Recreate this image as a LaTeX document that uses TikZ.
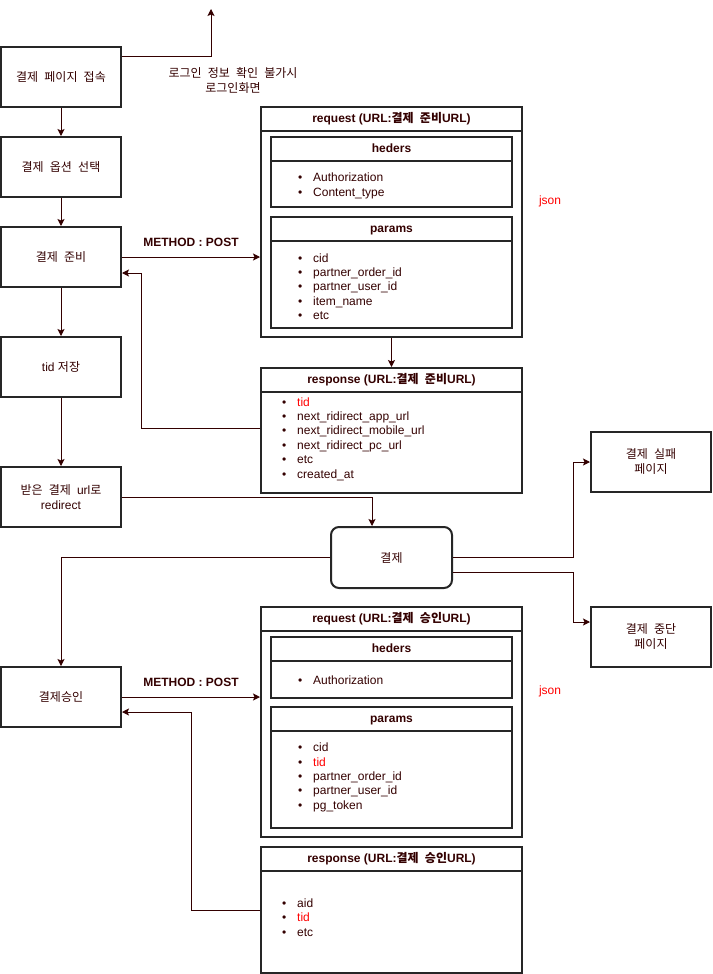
\documentclass[tikz,border=0pt]{standalone}
\usepackage{fontspec}
\setmainfont{Liberation Sans}
\newfontfamily\kr{Noto Sans CJK KR}[WordSpace=2.3]
\usetikzlibrary{arrows.meta,calc}
\definecolor{txt}{HTML}{330000}
\definecolor{ln}{HTML}{330000}
\definecolor{bd}{HTML}{262626}
\definecolor{rd}{HTML}{FF0000}
\newcommand\bl{\makebox[15pt][l]{\textbullet}}
\begin{document}
\begin{tikzpicture}[x=1pt,y=-1pt,
  every node/.style={text=txt},
  box/.style={draw=bd, line width=2pt, fill=white, minimum width=120pt, minimum height=60pt,
    inner sep=0pt, align=center, font=\fontsize{12}{15}\selectfont},
  ttl/.style={draw=bd, line width=2pt, minimum width=#1, minimum height=24pt, inner sep=0pt,
    text height=9.75pt, text depth=2.25pt, font=\fontsize{12}{15}\selectfont\bfseries},
  body/.style={draw=bd, line width=2pt, inner sep=0pt},
  lst/.style={anchor=west, inner sep=0pt, align=left, font=\fontsize{12}{14.35}\selectfont},
  lbl/.style={inner sep=0pt, align=center, font=\fontsize{12}{15}\selectfont},
  arr/.style={draw=ln, line width=1pt, -{Stealth[length=7pt,width=7pt,inset=1.5pt]}},
]
\useasboundingbox (0,0) rectangle (712,974);

% left column
\node[box] (b1) at (61,77) {{\kr 결제 페이지 접속}};
\node[box] (b2) at (61,167) {{\kr 결제 옵션 선택}};
\node[box] (b3) at (61,257) {{\kr 결제 준비}};
\node[box] (b4) at (61,367) {tid {\kr 저장}};
\node[box] (b5) at (61,497) {{\kr 받은 결제 }url{\kr 로}\\redirect};
\node[box] (b6) at (61,697) {{\kr 결제승인}};
\node[box, minimum width=121pt, minimum height=61pt, rounded corners=8pt] (pay) at (391.5,557.5) {{\kr 결제}};
\node[box] (fail) at (651,462) {{\kr 결제 실패}\\{\kr 페이지}};
\node[box] (stop) at (651,637) {{\kr 결제 중단}\\{\kr 페이지}};

% request 1
\node[body, minimum width=261pt, minimum height=206pt] (rq1b) at (391.5,234) {};
\node[ttl=261pt] (rq1t) at (391.5,119) {request (URL:{\kr 결제 준비}URL)};
\node[body, minimum width=241pt, minimum height=46pt] (h1b) at (391.5,184) {};
\node[ttl=241pt] (h1t) at (391.5,149) {heders};
\node[lst] (h1l) at (298,186) {\bl Authorization\\\bl Content\_type};
\node[body, minimum width=241pt, minimum height=87pt] (p1b) at (391.5,284.5) {};
\node[ttl=241pt] (p1t) at (391.5,229) {params};
\node[lst] (p1l) at (298,286.5) {\bl cid\\\bl partner\_order\_id\\\bl partner\_user\_id\\\bl item\_name\\\bl etc};
\node[lbl, text=rd] (json1) at (550,201) {json};

% response 1
\node[body, minimum width=261pt, minimum height=101pt] (rs1b) at (391.5,442.5) {};
\node[ttl=261pt] (rs1t) at (391.5,380) {response (URL:{\kr 결제 준비}URL)};
\node[lst] (rs1l) at (282,439) {\bl\textcolor{rd}{tid}\\\bl next\_ridirect\_app\_url\\\bl next\_ridirect\_mobile\_url\\\bl next\_ridirect\_pc\_url\\\bl etc\\\bl created\_at};

% request 2
\node[body, minimum width=261pt, minimum height=206pt] (rq2b) at (391.5,734) {};
\node[ttl=261pt] (rq2t) at (391.5,619) {request (URL:{\kr 결제 승인}URL)};
\node[body, minimum width=241pt, minimum height=37pt] (h2b) at (391.5,679.5) {};
\node[ttl=241pt] (h2t) at (391.5,649) {heders};
\node[lst] (h2l) at (298,680.5) {\bl Authorization};
\node[body, minimum width=241pt, minimum height=97pt] (p2b) at (391.5,779.5) {};
\node[ttl=241pt] (p2t) at (391.5,719) {params};
\node[lst] (p2l) at (298,777.5) {\bl cid\\\bl\textcolor{rd}{tid}\\\bl partner\_order\_id\\\bl partner\_user\_id\\\bl pg\_token};
\node[lbl, text=rd] (json2) at (550,691) {json};

% response 2
\node[body, minimum width=261pt, minimum height=102pt] (rs2b) at (391.5,922) {};
\node[ttl=261pt] (rs2t) at (391.5,859) {response (URL:{\kr 결제 승인}URL)};
\node[lst] (rs2l) at (282,917.5) {\bl aid\\\bl\textcolor{rd}{tid}\\\bl etc};

% labels
\node[lbl] (login) at (233,80.5) {{\kr 로그인 정보 확인 불가시}\\{\kr 로그인화면}};
\node[lbl, font=\fontsize{12}{15}\selectfont\bfseries] (m1) at (191,242) {METHOD : POST};
\node[lbl, font=\fontsize{12}{15}\selectfont\bfseries] (m2) at (191,682) {METHOD : POST};
\coordinate (top) at (211,9);

% connectors
\draw[arr] ([yshift=20pt]b1.east) -| (top);
\draw[arr] (b1) -- (b2);
\draw[arr] (b2) -- (b3);
\draw[arr] (b3) -- (b4);
\draw[arr] (b4) -- (b5);
\draw[arr] (b3.east) -- (b3.east -| rq1b.west);
\draw[arr] (rq1b.south) -- (rs1t.north);
\draw[arr] ([yshift=14.5pt]rs1b.west) -- ++(-119,0) |- ([yshift=-16pt]b3.east);
\draw[arr] (b5.east) -| ([xshift=-19.5pt]pay.north);
\draw[arr] (pay.west) -| (b6.north);
\draw[arr] (pay.east) -- ++(120,0) |- (fail.west);
\draw[arr] ([yshift=-15pt]pay.east) -- ++(120,0) |- ([yshift=15pt]stop.west);
\draw[arr] (b6.east) -- (b6.east -| rq2b.west);
\draw[arr] ([yshift=12pt]rs2b.west) -- ++(-69,0) |- ([yshift=-15pt]b6.east);
\end{tikzpicture}
\end{document}
